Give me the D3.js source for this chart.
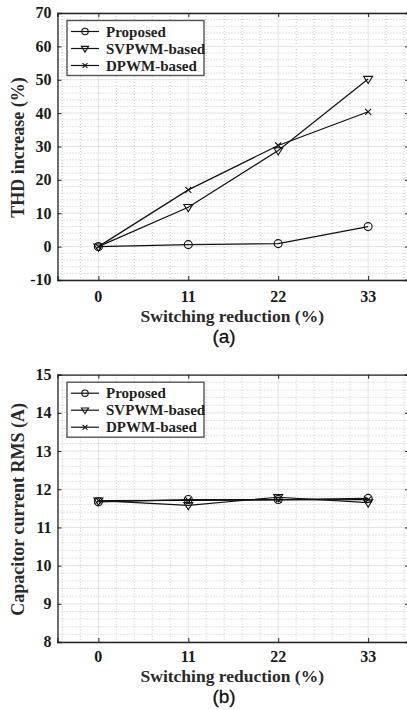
<!DOCTYPE html>
<html>
<head>
<meta charset="utf-8">
<script src="https://cdn.jsdelivr.net/npm/d3@7"></script>
<style>
  html, body { margin: 0; padding: 0; background: #fff; }
  svg { display: block; }
</style>
</head>
<body>
<svg id="chart" width="407" height="710"></svg>
<script>
// Switching reduction levels (%) shared by both panels
const switchingReduction = [0, 11, 22, 33];
const seriesNames = ["Proposed", "SVPWM-based", "DPWM-based"];
const markerTypes = ["circle", "triangle", "cross"];

// Panel (a): THD increase (%)
const thdProposed = [0, 0.6, 0.9, 6.0];
const thdSVPWM = [0, 11.8, 28.8, 50.2];
const thdDPWM = [0, 17.0, 30.3, 40.4];

// Panel (b): capacitor current RMS (A)
const rmsProposed = [11.67, 11.73, 11.73, 11.76];
const rmsSVPWM = [11.70, 11.58, 11.79, 11.65];
const rmsDPWM = [11.70, 11.71, 11.72, 11.73];

const xTicks = [0, 11, 22, 33];
const thdTicks = [-10, 0, 10, 20, 30, 40, 50, 60, 70];
const rmsTicks = [8, 9, 10, 11, 12, 13, 14, 15];

const svg = d3.select("#chart");
const serif = '"Liberation Serif", "Times New Roman", serif';

function panel(opts) {
  const { top, bottom, left, right, yDomain, yTicks, yMinorStep, series, yLabel, caption, xLabelY, tickLabelY, captionY } = opts;
  const g = svg.append("g");
  const x = d3.scaleLinear().domain([-5, 38]).range([left, right]);
  const y = d3.scaleLinear().domain(yDomain).range([bottom, top]);

  // minor grid (dotted)
  const xMinor = d3.range(-4.4, 38, 2.2).filter(v => Math.abs(v / 11 - Math.round(v / 11)) > 1e-6);
  const yMinor = d3.range(yDomain[0], yDomain[1] + 1e-9, yMinorStep)
    .filter(v => !yTicks.some(t => Math.abs(t - v) < 1e-6));
  g.selectAll(".xminor").data(xMinor).join("line")
    .attr("x1", d => x(d)).attr("x2", d => x(d)).attr("y1", top).attr("y2", bottom)
    .attr("stroke", "#b8b8b8").attr("stroke-width", 0.8).attr("stroke-dasharray", "1,2");
  g.selectAll(".yminor").data(yMinor).join("line")
    .attr("x1", left).attr("x2", right).attr("y1", d => y(d)).attr("y2", d => y(d))
    .attr("stroke", "#b8b8b8").attr("stroke-width", 0.8).attr("stroke-dasharray", "1,2");
  // major grid
  g.selectAll(".xmajor").data(xTicks).join("line")
    .attr("x1", d => x(d)).attr("x2", d => x(d)).attr("y1", top).attr("y2", bottom)
    .attr("stroke", "#e3e3e3").attr("stroke-width", 1);
  g.selectAll(".ymajor").data(yTicks).join("line")
    .attr("x1", left).attr("x2", right).attr("y1", d => y(d)).attr("y2", d => y(d))
    .attr("stroke", "#e3e3e3").attr("stroke-width", 1);

  // axes with inward ticks on all four sides
  const axB = g.append("g").attr("transform", `translate(0,${bottom})`)
    .call(d3.axisBottom(x).tickValues(xTicks).tickSize(-4).tickFormat(""));
  const axT = g.append("g").attr("transform", `translate(0,${top})`)
    .call(d3.axisTop(x).tickValues(xTicks).tickSize(-4).tickFormat(""));
  const axL = g.append("g").attr("transform", `translate(${left},0)`)
    .call(d3.axisLeft(y).tickValues(yTicks).tickSize(-4).tickFormat(""));
  const axR = g.append("g").attr("transform", `translate(${right},0)`)
    .call(d3.axisRight(y).tickValues(yTicks).tickSize(-4).tickFormat(""));
  [axB, axT, axL, axR].forEach(a => {
    a.select(".domain").attr("stroke", "#222").attr("stroke-width", 1.3);
    a.selectAll(".tick line").attr("stroke", "#222").attr("stroke-width", 1);
  });

  // tick labels
  g.selectAll(".xlab").data(xTicks).join("text")
    .attr("x", d => x(d)).attr("y", tickLabelY)
    .attr("text-anchor", "middle").attr("font-family", serif).attr("font-weight", "bold")
    .attr("font-size", 16).attr("fill", "#1a1a1a").text(d => d);
  g.selectAll(".ylab").data(yTicks).join("text")
    .attr("x", left - 6).attr("y", d => y(d)).attr("dy", "0.34em")
    .attr("text-anchor", "end").attr("font-family", serif).attr("font-weight", "bold")
    .attr("font-size", 16).attr("fill", "#1a1a1a").text(d => d);

  // axis titles
  g.append("text").attr("x", (left + right) / 2 - 1).attr("y", xLabelY)
    .attr("text-anchor", "middle").attr("font-family", serif).attr("font-weight", "bold")
    .attr("font-size", 17.5).attr("fill", "#2a2a2a").text("Switching reduction (%)");
  g.append("text").attr("transform", `translate(24,${(top + bottom) / 2 + 1}) rotate(-90)`)
    .attr("text-anchor", "middle").attr("font-family", serif).attr("font-weight", "bold")
    .attr("font-size", 18).attr("fill", "#2a2a2a").text(yLabel);
  g.append("text").attr("x", 224).attr("y", captionY)
    .attr("text-anchor", "middle").attr("font-family", '"Liberation Sans", Arial, sans-serif')
    .attr("font-size", 19).attr("fill", "#111").attr("stroke", "#111").attr("stroke-width", 0.3)
    .text(caption);

  // series lines and markers
  const line = d3.line().x((d, i) => x(switchingReduction[i])).y(d => y(d));
  series.forEach((vals, si) => {
    g.append("path").datum(vals).attr("d", line)
      .attr("fill", "none").attr("stroke", "#111").attr("stroke-width", 1.2);
    vals.forEach((v, i) => drawMarker(g, markerTypes[si], x(switchingReduction[i]), y(v)));
  });

  // legend
  const lx = left + 9.5, ly = top + 7.5, lw = 137, lh = 55;
  const lg = g.append("g");
  lg.append("rect").attr("x", lx).attr("y", ly).attr("width", lw).attr("height", lh)
    .attr("fill", "#fff").attr("stroke", "#555").attr("stroke-width", 1.4);
  seriesNames.forEach((name, i) => {
    const cy = ly + 11 + i * 17;
    lg.append("line").attr("x1", lx + 4).attr("x2", lx + 32).attr("y1", cy).attr("y2", cy)
      .attr("stroke", "#111").attr("stroke-width", 1.2);
    drawMarker(lg, markerTypes[i], lx + 18, cy, 0.8);
    lg.append("text").attr("x", lx + 39).attr("y", cy).attr("dy", "0.34em")
      .attr("font-family", serif).attr("font-weight", "bold").attr("font-size", 15)
      .attr("fill", "#222").text(name);
  });
}

function drawMarker(g, type, cx, cy, s = 1) {
  if (type === "circle") {
    g.append("circle").attr("cx", cx).attr("cy", cy).attr("r", 4 * s)
      .attr("fill", "none").attr("stroke", "#111").attr("stroke-width", 1.1);
  } else if (type === "triangle") {
    const r = 4.5 * s;
    g.append("path")
      .attr("d", `M${cx - r},${cy - r * 0.6}L${cx + r},${cy - r * 0.6}L${cx},${cy + r * 1.0}Z`)
      .attr("fill", "none").attr("stroke", "#111").attr("stroke-width", 1.1);
  } else {
    const r = 3 * s;
    g.append("path")
      .attr("d", `M${cx - r},${cy - r}L${cx + r},${cy + r}M${cx - r},${cy + r}L${cx + r},${cy - r}`)
      .attr("stroke", "#111").attr("stroke-width", 1.1);
  }
}

panel({
  top: 13, bottom: 280, left: 57.5, right: 409,
  yDomain: [-10, 70], yTicks: thdTicks, yMinorStep: 2,
  series: [thdProposed, thdSVPWM, thdDPWM],
  yLabel: "THD increase (%)", caption: "(a)",
  tickLabelY: 302, xLabelY: 322, captionY: 343
});
panel({
  top: 374.7, bottom: 642, left: 57.5, right: 409,
  yDomain: [8, 15], yTicks: rmsTicks, yMinorStep: 0.2,
  series: [rmsProposed, rmsSVPWM, rmsDPWM],
  yLabel: "Capacitor current RMS (A)", caption: "(b)",
  tickLabelY: 662, xLabelY: 682, captionY: 703
});
</script>
</body>
</html>
